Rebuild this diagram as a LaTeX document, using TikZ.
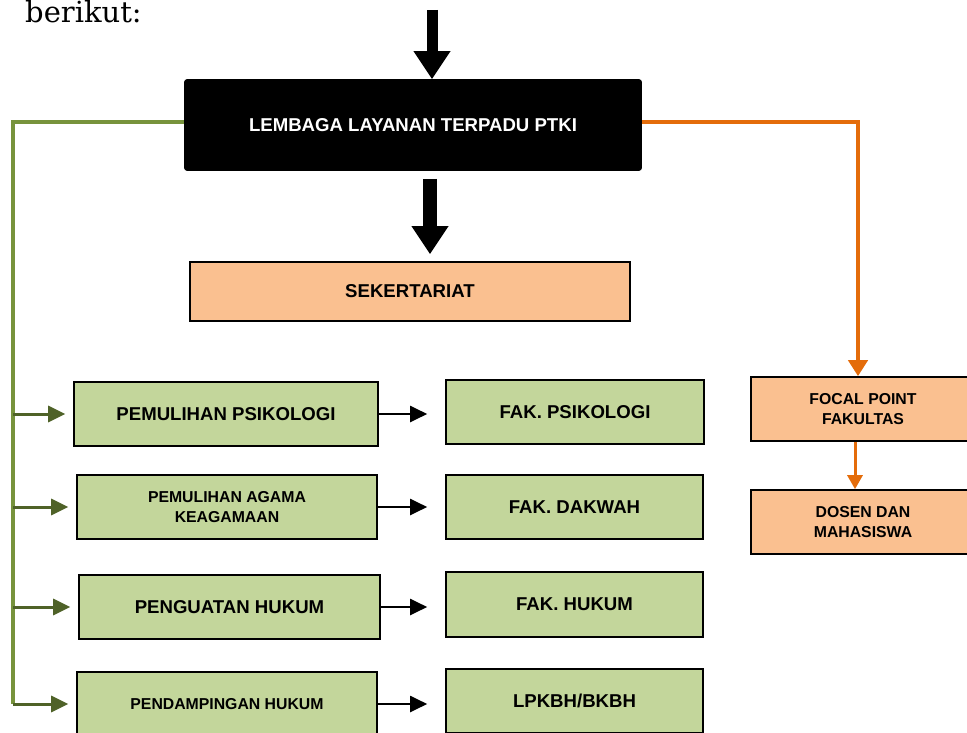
\documentclass[tikz,border=0pt]{standalone}
\usepackage{fontspec}
\setmainfont{Liberation Sans}
\newfontfamily\texteserif{DejaVu Serif}
\usetikzlibrary{arrows.meta}

\definecolor{vertclair}{HTML}{C3D69B}
\definecolor{vertolive}{HTML}{77933C}
\definecolor{vertfonce}{HTML}{4F6228}
\definecolor{peche}{HTML}{FAC090}
\definecolor{orangeligne}{HTML}{E46C0A}

\begin{document}
\begin{tikzpicture}  % ------ Struktur layanan PTKI -----------
      [x=1pt,y=-1pt,
       boite/.style={draw=black,line width=1.6pt,inner sep=0pt,align=center,
         font=\bfseries\fontsize{18.6}{21}\selectfont},
       petit/.style={font=\bfseries\fontsize{15.8}{20}\selectfont},
       vert/.style={boite,fill=vertclair},
       peau/.style={boite,fill=peche},
       bloc/.style={line width=#1,-{Triangle[length=28pt,width=35pt]}},
       tronc/.style={vertolive,line width=4pt},
       flvert/.style={vertfonce,line width=3pt,shorten >=8pt,
         -{Triangle[length=17pt,width=16pt]}},
       flnoir/.style={black,line width=2pt,shorten >=18pt,
         -{Triangle[length=17pt,width=16pt]}},
       florange/.style={orangeligne,line width=4pt,
         -{Triangle[length=16pt,width=19pt]}}]
    \useasboundingbox (0,0) rectangle (967,733);
    \clip (0,0) rectangle (967,733);

    \node[anchor=base west,inner sep=0pt,font=\texteserif\fontsize{29}{30}\selectfont]
      (berikut) at (25,23) {berikut:};

    \node[boite,fill=black,text=white,rounded corners=2pt,
      minimum width=456,minimum height=90] (lembaga) at (413,125)
      {LEMBAGA LAYANAN TERPADU PTKI};
    \node[peau,minimum width=440,minimum height=59] (sekre) at (410,291.5)
      {SEKERTARIAT};

    \node[vert,minimum width=304,minimum height=64] (p1) at (226,414)
      {PEMULIHAN PSIKOLOGI};
    \node[vert,petit,minimum width=300,minimum height=64] (p2) at (227,507)
      {PEMULIHAN AGAMA\\KEAGAMAAN};
    \node[vert,minimum width=301,minimum height=64] (p3) at (229.5,607)
      {PENGUATAN HUKUM};
    \node[vert,petit,minimum width=300,minimum height=64] (p4) at (227,704)
      {PENDAMPINGAN HUKUM};

    \node[vert,minimum width=258,minimum height=64] (f1) at (575,412)
      {FAK. PSIKOLOGI};
    \node[vert,minimum width=257,minimum height=64] (f2) at (574.5,507)
      {FAK. DAKWAH};
    \node[vert,minimum width=257,minimum height=65] (f3) at (574.5,604.5)
      {FAK. HUKUM};
    \node[vert,minimum width=257,minimum height=64] (f4) at (574.5,701)
      {LPKBH/BKBH};

    \node[peau,petit,minimum width=224,minimum height=64] (focal) at (863,409)
      {FOCAL POINT\\FAKULTAS};
    \node[peau,petit,minimum width=224,minimum height=64] (dosen) at (863,522)
      {DOSEN DAN\\MAHASISWA};

    % fleches epaisses
    \coordinate (entree) at (432,10);
    \draw[bloc=11pt] (entree) -- (entree |- lembaga.north);
    \draw[bloc=14pt,shorten <=8pt,shorten >=7pt] (lembaga.south -| 430,0)
      -- (sekre.north -| 430,0);

    % branche verte
    \coordinate (gauche) at (13,122);
    \draw[tronc] (lembaga.west |- gauche) -- (gauche) -- (gauche |- p4.west);
    \foreach \b in {p1,p2,p3,p4}
      \draw[flvert] (gauche |- \b.west) -- (\b.west);

    % vers les facultes
    \draw[flnoir] (p1.east) -- (p1.east -| f1.west);
    \draw[flnoir] (p2.east) -- (p2.east -| f2.west);
    \draw[flnoir] (p3.east) -- (p3.east -| f3.west);
    \draw[flnoir] (p4.east) -- (p4.east -| f4.west);

    % branche orange
    \coordinate (droite) at (858,122);
    \draw[florange] (lembaga.east |- droite) -- (droite) -- (droite |- focal.north);
    \draw[orangeligne,line width=3pt,-{Triangle[length=14pt,width=15pt]}]
      ([xshift=-8]focal.south) -- ([xshift=-8]dosen.north);
\end{tikzpicture}
\end{document}
